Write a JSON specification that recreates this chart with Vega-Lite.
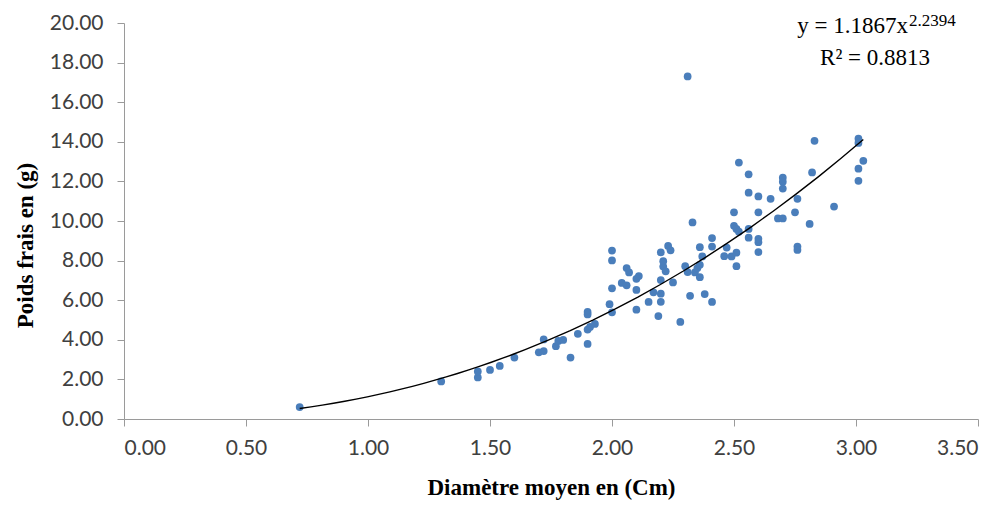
{
  "$schema": "https://vega.github.io/schema/vega-lite/v6.json",
  "width": 854,
  "height": 396,
  "autosize": {"type": "none"},
  "padding": {"left": 124, "top": 23, "right": 28, "bottom": 87},
  "background": "white",
  "config": {
    "view": {"stroke": null},
    "axis": {
      "grid": false,
      "domainColor": "#9a9a9a",
      "tickColor": "#9a9a9a",
      "tickSize": 7,
      "labelFont": "Lato",
      "labelFontSize": 21,
      "labelColor": "#404040",
      "labelOverlap": false,
      "titleFont": "Liberation Serif",
      "titleFontSize": 23,
      "titleFontWeight": "bold",
      "titleColor": "#000000"
    }
  },
  "data": {
    "values": [
      {"d": 0.72, "p": 0.60}, {"d": 1.30, "p": 1.90}, {"d": 1.45, "p": 2.10}, {"d": 1.45, "p": 2.40},
      {"d": 1.50, "p": 2.48}, {"d": 1.54, "p": 2.68}, {"d": 1.60, "p": 3.10}, {"d": 1.70, "p": 3.37},
      {"d": 1.72, "p": 3.43}, {"d": 1.72, "p": 4.02}, {"d": 1.77, "p": 3.68}, {"d": 1.78, "p": 3.94},
      {"d": 1.80, "p": 3.99}, {"d": 1.83, "p": 3.10}, {"d": 1.86, "p": 4.30}, {"d": 1.90, "p": 3.79},
      {"d": 1.90, "p": 4.52}, {"d": 1.91, "p": 4.65}, {"d": 1.93, "p": 4.80}, {"d": 1.90, "p": 5.41},
      {"d": 1.90, "p": 5.28}, {"d": 1.99, "p": 5.80}, {"d": 2.00, "p": 5.39}, {"d": 2.00, "p": 6.60},
      {"d": 2.00, "p": 8.01}, {"d": 2.00, "p": 8.51}, {"d": 2.04, "p": 6.87}, {"d": 2.06, "p": 6.75},
      {"d": 2.06, "p": 7.62}, {"d": 2.07, "p": 7.40}, {"d": 2.10, "p": 6.52}, {"d": 2.10, "p": 5.52},
      {"d": 2.10, "p": 7.08}, {"d": 2.11, "p": 7.22}, {"d": 2.15, "p": 5.91}, {"d": 2.17, "p": 6.40},
      {"d": 2.19, "p": 5.20}, {"d": 2.20, "p": 5.92}, {"d": 2.20, "p": 6.33}, {"d": 2.20, "p": 7.02},
      {"d": 2.21, "p": 7.70}, {"d": 2.21, "p": 7.97}, {"d": 2.22, "p": 7.46}, {"d": 2.20, "p": 8.41},
      {"d": 2.23, "p": 8.74}, {"d": 2.24, "p": 8.52}, {"d": 2.25, "p": 6.90}, {"d": 2.28, "p": 4.90},
      {"d": 2.30, "p": 7.72}, {"d": 2.32, "p": 6.22}, {"d": 2.31, "p": 7.42}, {"d": 2.33, "p": 9.93},
      {"d": 2.36, "p": 8.68}, {"d": 2.31, "p": 17.30}, {"d": 2.34, "p": 7.40}, {"d": 2.35, "p": 7.62},
      {"d": 2.36, "p": 7.16}, {"d": 2.36, "p": 7.79}, {"d": 2.37, "p": 8.21}, {"d": 2.38, "p": 6.31},
      {"d": 2.41, "p": 5.91}, {"d": 2.41, "p": 9.14}, {"d": 2.41, "p": 8.71}, {"d": 2.47, "p": 8.66},
      {"d": 2.46, "p": 8.22}, {"d": 2.49, "p": 8.21}, {"d": 2.51, "p": 8.40}, {"d": 2.51, "p": 7.72},
      {"d": 2.50, "p": 10.44}, {"d": 2.50, "p": 9.76}, {"d": 2.51, "p": 9.60}, {"d": 2.52, "p": 9.46},
      {"d": 2.52, "p": 12.95}, {"d": 2.56, "p": 12.36}, {"d": 2.56, "p": 11.43}, {"d": 2.56, "p": 9.60},
      {"d": 2.56, "p": 9.16}, {"d": 2.60, "p": 11.24}, {"d": 2.60, "p": 10.44}, {"d": 2.60, "p": 9.10},
      {"d": 2.60, "p": 8.93}, {"d": 2.60, "p": 8.43}, {"d": 2.65, "p": 11.12}, {"d": 2.68, "p": 10.13},
      {"d": 2.70, "p": 10.13}, {"d": 2.70, "p": 12.19}, {"d": 2.70, "p": 11.98}, {"d": 2.70, "p": 11.64},
      {"d": 2.75, "p": 10.44}, {"d": 2.76, "p": 11.12}, {"d": 2.76, "p": 8.71}, {"d": 2.76, "p": 8.54},
      {"d": 2.81, "p": 9.85}, {"d": 2.82, "p": 12.45}, {"d": 2.83, "p": 14.05}, {"d": 2.91, "p": 10.73},
      {"d": 3.01, "p": 14.16}, {"d": 3.01, "p": 13.94}, {"d": 3.03, "p": 13.04}, {"d": 3.01, "p": 12.64},
      {"d": 3.01, "p": 12.03}
    ]
  },
  "layer": [
    {
      "mark": {"type": "point", "filled": true, "shape": "circle", "size": 60, "color": "#4a7ebb", "opacity": 1},
      "encoding": {
        "x": {
          "field": "d", "type": "quantitative",
          "scale": {"domain": [0, 3.5], "nice": false, "zero": true},
          "axis": {"values": [0, 0.5, 1, 1.5, 2, 2.5, 3, 3.5], "format": ".2f", "title": "Diamètre  moyen  en (Cm)", "titlePadding": 18, "labelPadding": 11}
        },
        "y": {
          "field": "p", "type": "quantitative",
          "scale": {"domain": [0, 20], "nice": false},
          "axis": {"values": [0, 2, 4, 6, 8, 10, 12, 14, 16, 18, 20], "tickCount": 11, "labelOverlap": false, "format": ".2f", "title": "Poids  frais  en  (g)", "titleX": -87, "titleY": 222, "labelPadding": 14}
        }
      }
    },
    {
      "transform": [{"regression": "p", "on": "d", "method": "pow"}],
      "mark": {"type": "line", "color": "#000000", "strokeWidth": 1.4},
      "encoding": {
        "x": {"field": "d", "type": "quantitative"},
        "y": {"field": "p", "type": "quantitative", "axis": {"values": [0, 2, 4, 6, 8, 10, 12, 14, 16, 18, 20], "tickCount": 11, "labelOverlap": false}}
      }
    },
    {
      "data": {"values": [{}]},
      "mark": {"type": "text", "font": "Liberation Serif", "fontSize": 23, "align": "right", "baseline": "alphabetic", "color": "#000000", "text": "y = 1.1867x"},
      "encoding": {"x": {"datum": 3.213}, "y": {"datum": 19.47}}
    },
    {
      "data": {"values": [{}]},
      "mark": {"type": "text", "font": "Liberation Serif", "fontSize": 17, "align": "left", "baseline": "alphabetic", "color": "#000000", "text": "2.2394"},
      "encoding": {"x": {"datum": 3.217}, "y": {"datum": 19.87}}
    },
    {
      "data": {"values": [{}]},
      "mark": {"type": "text", "font": "Liberation Serif", "fontSize": 23, "align": "center", "baseline": "alphabetic", "color": "#000000", "text": "R² = 0.8813"},
      "encoding": {"x": {"datum": 3.078}, "y": {"datum": 17.9}}
    }
  ]
}
